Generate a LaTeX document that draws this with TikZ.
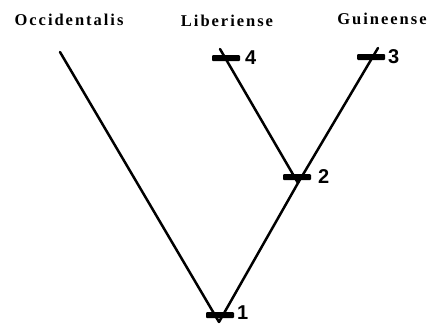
\documentclass[tikz,border=0pt]{standalone}
\usepackage{fontspec}
\setmainfont{Liberation Serif}
\newfontfamily\taxonfont[LetterSpace=12]{Liberation Serif}
\newfontfamily\numfont{Liberation Sans}
\begin{document}
\begin{tikzpicture}[x=1pt,y=-1pt,
  branch/.style={line width=2.5pt,line cap=round,line join=round},
  bar/.style={rectangle,fill=black,minimum width=28pt,minimum height=6pt,inner sep=0pt,rounded corners=1pt},
  taxon/.style={font=\taxonfont\bfseries\fontsize{16.5}{16.5}\selectfont,inner sep=0pt},
  num/.style={font=\numfont\bfseries\fontsize{20}{20}\selectfont,inner sep=0pt}]
  \useasboundingbox (0,0) rectangle (436,325);

  % taxon names
  \node[taxon] (occ) at (69,20) {Occidentalis};
  \node[taxon] (lib) at (227,21) {Liberiense};
  \node[taxon] (gui) at (382,19) {Guineense};

  % branch ends and junctions
  \coordinate (tipO) at (60,52);
  \coordinate (tip4) at (220,49);
  \coordinate (tip3) at (378,48);
  \coordinate (j2) at (298,183);
  \coordinate (root) at (219,322);

  % branches
  \draw[branch] (tipO) -- (root);
  \draw[branch] (tip4) -- (j2);
  \draw[branch] (tip3) -- (j2);
  \draw[branch] (j2) -- (root);

  % character-state bars
  \node[bar] (b4) at (226,58) {};
  \node[bar] (b3) at (371,57) {};
  \node[bar] (b2) at (297,177) {};
  \node[bar] (b1) at (220,315) {};

  % bar numbers
  \node[num,anchor=west] (n4) at (245,58) {4};
  \node[num,anchor=west] (n3) at (388,57) {3};
  \node[num,anchor=west] (n2) at (318,177) {2};
  \node[num,anchor=west] (n1) at (237,313) {1};
\end{tikzpicture}
\end{document}
